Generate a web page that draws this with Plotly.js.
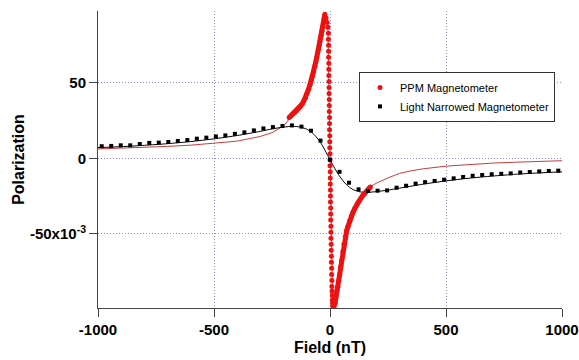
<!DOCTYPE html>
<html>
<head>
<meta charset="utf-8">
<script src="https://cdn.plot.ly/plotly-3.0.1.min.js"></script>
<style>html,body{margin:0;padding:0;background:#fff}#chart{width:579px;height:360px}</style>
</head>
<body>
<div id="chart"></div>
<script>
// Values in units of 1e-3 (Polarization), field in nT
const ppmLeftX = [-176,-168,-160,-152,-144,-136,-128,-120,-113,-106,-99,-92,-86,-80,-75,-70,-65,-61,-57,-53,-49,-46,-43,-40,-37,-34,-31,-28,-25,-22];
const ppmLeftY = [27,28.2,29.3,30.4,31.5,32.8,34.2,36,38,40.2,43,46,49,52,54.5,57.5,61,64,67,70,72.5,75,77.5,80,82,84.5,87.5,90,93,95.5];
const ppmDropX = [-17,-12,-9,-7,-7,-6,-6,-6,-5,-5,-5,-4,-4,-4,-3,-3,-3,-2,-2,-2,-1,-1,-1,0,0,0,1,1,1,2,2,2,3,3,3,4,4,4,5,5,6,6,7,7,8,8,9,10,10,11,12];
const ppmDropY = [93,90,87,83,79,75,71,67,63,59,55,51,47,43,39,35,31,27,23,19,15,11,7,3,-1,-5,-9,-13,-17,-21,-25,-29,-33,-37,-41,-45,-49,-53,-57,-61,-65,-69,-73,-77,-81,-85,-88,-91,-94,-96,-98];
const ppmRightX = [14,18,22,26,30,34,38,42,46,50,55,60,66,72,78,85,92,100,108,116,124,133,142,151,160,168,174];
const ppmRightY = [-99,-98,-96,-92,-88,-85,-81,-77,-72,-68,-62,-57,-52,-48,-45,-41.5,-38.5,-35.5,-33,-30.5,-28.5,-26.5,-24.5,-23,-21.5,-20,-19];

const ppmFitX = [-1000,-900,-800,-700,-600,-500,-400,-300,-250,-200,-176,-150,-120,-100,-80,-60,-45,-35,-28,-23,-20,-15,-9,-5,0,4,8,12,16,22,30,40,50,60,72,86,100,120,140,172,200,250,300,350,400,500,600,700,800,900,1000];
const ppmFitY = [6.2,6.6,7.2,7.9,8.7,9.8,11.4,14.5,17,21.5,26,30,36,42.5,52,64,76,83,90,95,96,93,87,50,0,-40,-80,-98,-99,-96,-88,-79,-68,-57,-48,-41,-35.5,-29.5,-25,-19,-16.5,-13,-10,-8.3,-7,-5.2,-4,-3.2,-2.6,-2,-1.6];

const lnmX = [-984,-943,-902,-861,-820,-779,-738,-697,-656,-615,-574,-533,-492,-451,-410,-369,-328,-287,-246,-205,-164,-123,-82,-41,0,41,82,123,164,205,246,287,328,369,410,451,492,533,574,615,656,697,738,779,820,861,902,943,984];
const lnmY = [8,8.2,8.6,8.6,9.5,10.2,10.4,10.8,11.5,12.1,13,13.7,14.5,15.2,16.2,17.2,18.5,19.8,20.7,21.4,21.8,21,18.3,11.7,-1,-9,-16.2,-20.6,-21.7,-21.5,-21.3,-19.5,-18.2,-16.8,-15.8,-15,-14.2,-13.3,-12.4,-11.6,-11.1,-10.6,-10.3,-10,-9.4,-9.1,-8.7,-8.4,-8.2];
const lnmFitX = [-1000,-900,-800,-700,-600,-500,-400,-300,-250,-200,-160,-130,-100,-80,-60,-40,-20,0,20,40,60,80,100,130,160,200,250,300,400,500,600,700,800,900,1000];
const lnmFitY = [7.1,7.7,8.6,9.7,11.1,12.9,15.1,17.9,19.5,20.7,21.2,20.8,19.3,17.3,14.3,10.3,4.8,-1,-6.6,-11.6,-15.7,-18.8,-20.8,-22.3,-22.6,-22.1,-21.1,-19.8,-17.2,-15,-13.2,-11.8,-10.6,-9.7,-9]

const xTicks = [-1000,-500,0,500,1000];
const xTickText = ['-1000','-500','0','500','1000'];
const yTicks = [-50,0,50];
const yTickText = ['-50x10<sup>-3</sup>','0','50'];
const seriesNames = ['PPM Magnetometer','Light Narrowed Magnetometer'];

const RED = '#ee1111';
const traces = [
  {x: ppmFitX, y: ppmFitY, mode:'lines', line:{color:'#c83c3c', width:1}, showlegend:false, hoverinfo:'skip'},
  {x: lnmFitX, y: lnmFitY, mode:'lines', line:{color:'#000', width:1, shape:'spline', smoothing:0.6}, showlegend:false, hoverinfo:'skip'},
  {x: ppmLeftX, y: ppmLeftY, mode:'lines', line:{color:RED, width:5}, showlegend:false},
  {x: ppmRightX, y: ppmRightY, mode:'lines', line:{color:RED, width:5}, showlegend:false},
  {x: ppmLeftX.concat(ppmDropX, ppmRightX), y: ppmLeftY.concat(ppmDropY, ppmRightY), mode:'markers', name: seriesNames[0],
   marker:{color:RED, size:5, symbol:'circle'}},
  {x: lnmX, y: lnmY, mode:'markers', name: seriesNames[1], marker:{color:'#000', size:4, symbol:'square'}}
];

const FAM = 'Liberation Sans, Arial, sans-serif';
const axFont = {family:FAM, size:15, color:'#000', weight:700};
const layout = {
  width:579, height:360,
  margin:{l:98, r:17, t:11, b:52},
  paper_bgcolor:'#fff', plot_bgcolor:'#fff',
  font:{family:FAM, color:'#000'},
  xaxis:{range:[-1000,1000], tickmode:'array', tickvals:xTicks, ticktext:xTickText,
    showline:true, linecolor:'#444', linewidth:1, ticks:'outside', ticklen:8, tickcolor:'#444',
    showgrid:true, gridcolor:'#8c8cdc', griddash:'1px,2px', gridwidth:1, zeroline:false,
    tickfont:axFont, title:{text:'Field (nT)', font:{family:FAM, size:16, weight:700}, standoff:4}},
  yaxis:{range:[-99.3,97.7], tickmode:'array', tickvals:yTicks, ticktext:yTickText,
    showline:true, linecolor:'#444', linewidth:1, ticks:'outside', ticklen:8, tickcolor:'#444',
    showgrid:true, gridcolor:'#8c8cdc', griddash:'1px,2px', gridwidth:1, zeroline:false,
    tickfont:axFont, title:{text:'Polarization', font:{family:FAM, size:16, weight:700}, standoff:1}},
  legend:{x:0.5625, y:0.795, xanchor:'left', yanchor:'top', bgcolor:'#fff', bordercolor:'#333', borderwidth:1,
    font:{family:FAM, size:11, color:'#000'}, itemwidth:30, tracegroupgap:0},
  showlegend:true
};
Plotly.newPlot('chart', traces, layout, {displayModeBar:false, staticPlot:true});
</script>
</body>
</html>
